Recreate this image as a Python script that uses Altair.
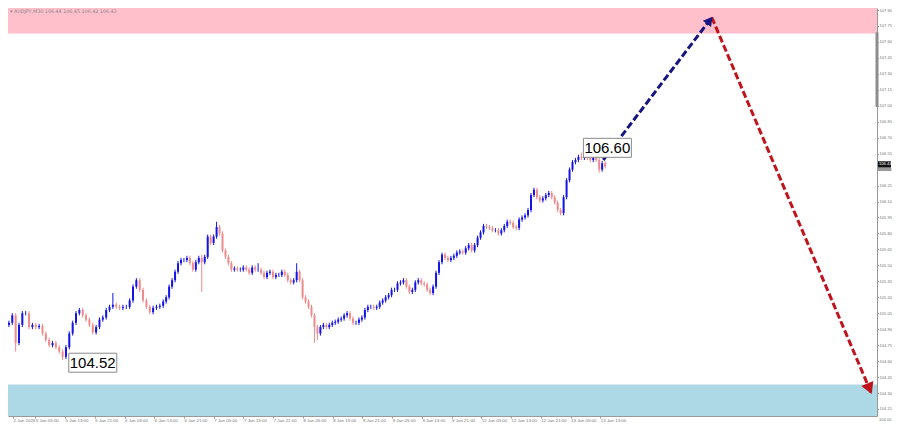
import altair as alt
import pandas as pd

# ---------------- data ----------------
title_text = "\u25be AUDJPY,M30  106.44 106.45 106.42 106.43"

first_open = 104.96
closes_a = [104.94, 104.96, 105.03, 104.77, 104.94, 105.05, 105.05, 104.92, 104.94, 104.92,
            104.93, 104.86, 104.80, 104.75, 104.77, 104.73, 104.69, 104.64, 104.73, 104.86,
            104.96, 105.05, 105.08, 105.03, 104.99, 104.94, 104.87, 104.92, 104.99, 105.01,
            105.08, 105.11, 105.13, 105.11, 105.10, 105.11, 105.11, 105.17, 105.30, 105.36,
            105.27, 105.17, 105.11, 105.06, 105.10, 105.11, 105.12, 105.16]
closes_b = [105.20, 105.30, 105.36, 105.44, 105.52, 105.55, 105.55, 105.57, 105.52, 105.46,
            105.53, 105.57, 105.53, 105.58, 105.77, 105.71, 105.77, 105.86, 105.80, 105.64,
            105.58, 105.52, 105.46, 105.47, 105.46, 105.46, 105.48, 105.46, 105.43, 105.48,
            105.46, 105.46, 105.43, 105.39, 105.43, 105.44, 105.39, 105.41, 105.41, 105.44,
            105.41, 105.36, 105.34, 105.36, 105.44, 105.36, 105.20, 105.16, 105.11, 105.03]
closes_c = [104.92, 104.86, 104.92, 104.94, 104.92, 104.94, 104.96, 104.97, 104.99, 105.00,
            105.03, 105.05, 105.00, 104.96, 104.96, 104.99, 105.01, 105.08, 105.11, 105.11,
            105.10, 105.11, 105.15, 105.17, 105.20, 105.22, 105.27, 105.27, 105.33, 105.34,
            105.36, 105.30, 105.25, 105.27, 105.34, 105.36, 105.33, 105.32, 105.27, 105.24,
            105.30, 105.43, 105.53, 105.60, 105.57, 105.55, 105.57, 105.59, 105.62]
closes_d = [105.63, 105.62, 105.66, 105.69, 105.64, 105.69, 105.76, 105.81, 105.87, 105.86,
            105.85, 105.83, 105.83, 105.80, 105.83, 105.87, 105.91, 105.90, 105.86, 105.85,
            105.93, 105.95, 105.97, 106.02, 106.16, 106.21, 106.14, 106.11, 106.13, 106.16,
            106.18, 106.14, 106.09, 106.02, 105.99, 106.14, 106.30, 106.40, 106.47, 106.49,
            106.52, 106.51, 106.52, 106.51, 106.49, 106.51, 106.49, 106.40, 106.46, 106.43]
# first / last hour (on the chart's time axis) covered by each run of candles above
seg_start_hours = [0.0, 43.2, 83.1, 122.2]
seg_end_hours = [42.4, 82.3, 121.4, 161.3]

# long wicks seen on the chart: bar index -> high / low
spike_high = {32: 105.24, 60: 105.60, 65: 105.91, 79: 105.52, 92: 105.52, 188: 106.56}
spike_low = {3: 104.69, 17: 104.61, 60: 105.25, 98: 104.77, 99: 104.80, 194: 106.37}
default_wick = 0.02

# time axis labels (every 8 hours of the chart's axis)
time_labels = ["2 Jan 2026", "5 Jan 05:00", "5 Jan 13:00", "5 Jan 21:00", "6 Jan 05:00",
               "6 Jan 13:00", "6 Jan 21:00", "7 Jan 05:00", "7 Jan 13:00", "7 Jan 21:00",
               "8 Jan 05:00", "8 Jan 13:00", "8 Jan 21:00", "9 Jan 05:00", "9 Jan 13:00",
               "9 Jan 21:00", "12 Jan 05:00", "12 Jan 13:00", "12 Jan 21:00", "13 Jan 05:00",
               "13 Jan 13:00"]
time_label_hours = [0, 8, 16, 24, 32, 40, 48, 56, 64, 72, 80, 88, 96, 104, 112, 120, 128,
                    136, 144, 152, 160]

price_ticks = [107.90, 107.75, 107.60, 107.45, 107.30, 107.15, 107.00, 106.85, 106.70,
               106.55, 106.40, 106.25, 106.10, 105.95, 105.80, 105.65, 105.50, 105.35,
               105.20, 105.05, 104.90, 104.75, 104.60, 104.45, 104.30, 104.15]
bottom_tick_label = ["104.00"]

# zones
sell_zone_low = [107.68]
buy_zone_high = [104.38]

# forecast arrows (hours, price)
arrow_up_t = [160.8, 190.0]
arrow_up_p = [106.49, 107.83]
arrow_down_t = [190.0, 232.9]
arrow_down_p = [107.83, 104.30]

# annotation labels
label_text = ["106.60", "104.52"]
label_t = [155.45, 17.0]
label_p = [106.60, 104.58]

# current price tag on the scale
bid_price = [106.45]
bid_text = ["106.43"]
ask_price = [106.41]

# forecast range marker on the scale
range_top = [107.69]
range_bottom = [106.99]

# ---------------- build tables ----------------
closes = closes_a + closes_b + closes_c + closes_d
times = []
for seg, t0, t1 in zip([closes_a, closes_b, closes_c, closes_d], seg_start_hours, seg_end_hours):
    n = len(seg)
    times += [t0 + (t1 - t0) * k / (n - 1) for k in range(n)]
opens = [first_open] + closes[:-1]
rows = []
for i, (t, o, c) in enumerate(zip(times, opens, closes)):
    hi = spike_high.get(i, max(o, c) + default_wick)
    lo = spike_low.get(i, min(o, c) - default_wick)
    rows.append({"t": t, "open": o, "close": c, "high": hi, "low": lo,
                 "dir": "up" if c >= o else "down"})
candles = pd.DataFrame(rows)

W, H = 869, 408
PAD_R = 884 - W
X_DOMAIN = [1.995, 233.1]
Y_DOMAIN = [104.084, 107.919]
AX_FONT = "Liberation Sans"

label_js = "[" + ",".join("'" + s + "'" for s in time_labels) + "]"
axis_hours = [max(h, X_DOMAIN[0] + 0.01) for h in time_label_hours]

x_axis = alt.Axis(values=axis_hours, labelExpr=label_js + "[round(datum.value/8)]",
                  labelFontSize=4.4, labelColor="#777", labelAlign="left", labelPadding=0,
                  tickSize=2, tickColor="#999", domainColor="#999", grid=False,
                  labelOverlap=False, title=None, labelFont=AX_FONT)
y_axis = alt.Axis(orient="right", values=price_ticks, format=".2f", labelFontSize=4.1,
                  labelColor="#777", tickSize=1.5, tickColor="#999", domainColor="#999",
                  labelPadding=0.5, grid=False, title=None, labelOverlap=False,
                  labelFont=AX_FONT)

xs = alt.Scale(domain=X_DOMAIN, nice=False, zero=False)
ys = alt.Scale(domain=Y_DOMAIN, nice=False, zero=False)


def X(field):
    return alt.X(field, type="quantitative", scale=xs, axis=x_axis)


def Y(field):
    return alt.Y(field, type="quantitative", scale=ys, axis=y_axis)


color_scale = alt.Scale(domain=["up", "down"], range=["#1414e6", "#ee8a8a"])

# zones
pink = alt.Chart(pd.DataFrame({"p": sell_zone_low})).mark_rect(color="#ffc0cb").encode(
    x=alt.value(0), x2=alt.value(W), y=Y("p"), y2=alt.value(0))
blue = alt.Chart(pd.DataFrame({"p": buy_zone_high})).mark_rect(color="#add8e6").encode(
    x=alt.value(0), x2=alt.value(W), y=Y("p"), y2=alt.value(H))

base = alt.Chart(candles)
wicks = base.mark_rule(strokeWidth=1, clip=True).encode(
    x=X("t"), y=Y("low"), y2="high",
    color=alt.Color("dir:N", scale=color_scale, legend=None))
bodies = base.mark_bar(size=2, clip=True).encode(
    x=X("t"), y=Y("open"), y2="close",
    color=alt.Color("dir:N", scale=color_scale, legend=None))

arr_up = alt.Chart(pd.DataFrame({"t": arrow_up_t, "p": arrow_up_p})).mark_line(
    color="#16167e", strokeWidth=3, strokeDash=[7, 3]).encode(x=X("t"), y=Y("p"))
arr_down = alt.Chart(pd.DataFrame({"t": arrow_down_t, "p": arrow_down_p})).mark_line(
    color="#c0141c", strokeWidth=3, strokeDash=[7, 3]).encode(x=X("t"), y=Y("p"))

head_up = alt.Chart(pd.DataFrame({"t": arrow_up_t[-1:], "p": arrow_up_p[-1:]})).mark_point(
    shape="triangle", filled=True, size=110, angle=38, color="#16167e", opacity=1,
    xOffset=-3, yOffset=4).encode(x=X("t"), y=Y("p"))
head_down = alt.Chart(pd.DataFrame({"t": arrow_down_t[-1:], "p": arrow_down_p[-1:]})).mark_point(
    shape="triangle", filled=True, size=170, angle=157, color="#c0141c", opacity=1,
    xOffset=-2.5, yOffset=-6).encode(x=X("t"), y=Y("p"))

lab_df = pd.DataFrame({"txt": label_text, "t": label_t, "p": label_p})
lab_box = alt.Chart(lab_df).mark_rect(fill="white", stroke="#8a8a8a", strokeWidth=1,
                                      xOffset=0, x2Offset=48, yOffset=-10, y2Offset=9).encode(
    x=X("t"), x2="t", y=Y("p"), y2="p")
lab_txt = alt.Chart(lab_df).mark_text(align="left", baseline="middle", dx=1, dy=0,
                                      fontSize=15, font="Liberation Sans",
                                      color="black").encode(
    x=X("t"), y=Y("p"), text="txt:N")

# scale decorations
rng = alt.Chart(pd.DataFrame({"a": range_top, "b": range_bottom})).mark_rule(
    color="#8c8c8c", strokeWidth=3).encode(x=alt.value(W), y=Y("a"), y2="b")
ask_tag = alt.Chart(pd.DataFrame({"p": ask_price})).mark_rect(
    color="#9a9a9a", yOffset=-2.5, y2Offset=2.5).encode(
    x=alt.value(W + 1), x2=alt.value(W + 14), y=Y("p"), y2="p")
bid_df = pd.DataFrame({"p": bid_price, "txt": bid_text})
bid_tag = alt.Chart(bid_df).mark_rect(color="#111111", yOffset=-3, y2Offset=3).encode(
    x=alt.value(W + 1), x2=alt.value(W + 14), y=Y("p"), y2="p")
bid_txt = alt.Chart(bid_df).mark_text(align="left", baseline="middle", fontSize=4.1,
                                      color="white", font=AX_FONT).encode(
    x=alt.value(W + 2), y=Y("p"), text="txt:N")
bottom_lab = alt.Chart(pd.DataFrame({"txt": bottom_tick_label})).mark_text(
    align="left", baseline="middle", fontSize=4.1, color="#777", font=AX_FONT).encode(
    x=alt.value(W + 2), y=alt.value(H + 4), text="txt:N")

title = alt.Chart(pd.DataFrame({"txt": [title_text]})).mark_text(
    align="left", baseline="middle", fontSize=4.8, color="#888", font="DejaVu Sans").encode(
    x=alt.value(2), y=alt.value(4), text="txt:N")

chart = alt.layer(
    pink, blue, wicks, bodies, arr_up, arr_down, head_up, head_down,
    lab_box, lab_txt, rng, ask_tag, bid_tag, bid_txt, bottom_lab, title
).properties(
    width=W, height=H, background="white",
    autosize=alt.AutoSizeParams(type="none"),
    padding={"left": 0, "top": 0, "right": PAD_R, "bottom": 7},
).configure_view(stroke=None)

chart.save("out.html", embed_options={"renderer": "svg", "actions": False})
